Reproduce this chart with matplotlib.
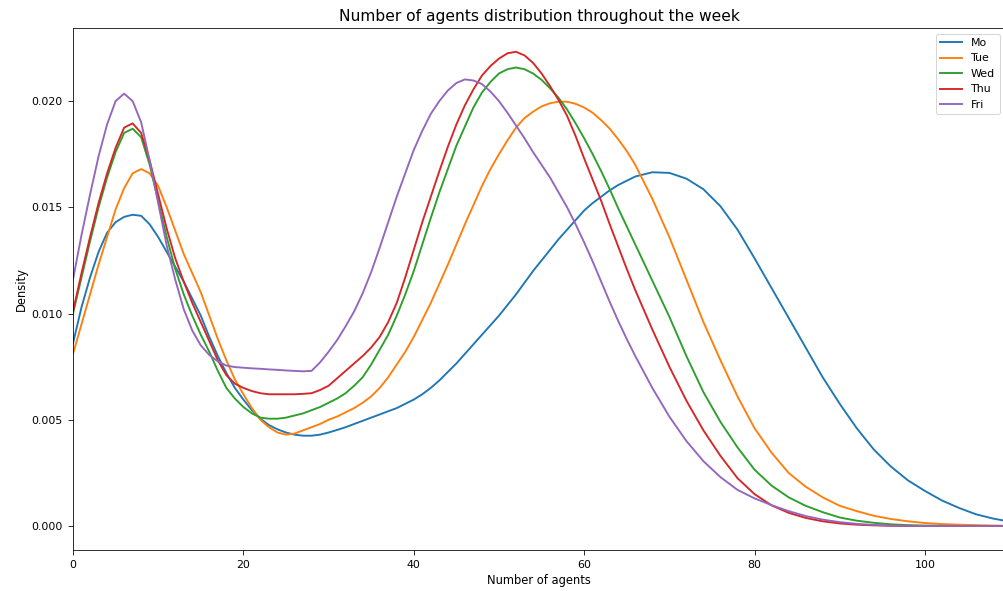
import matplotlib
matplotlib.use("Agg")
import matplotlib.pyplot as plt

# x positions (number of agents) at which densities were read
agents = list(range(0, 67)) + list(range(68, 111, 2))

# densities in units of 1e-3
mo = [8.6, 10.3, 11.7, 12.9, 13.8, 14.3, 14.55, 14.65, 14.6, 14.2,
      13.6, 12.9, 12.2, 11.5, 10.7, 9.9, 8.9, 8.0, 7.2, 6.5,
      5.95, 5.45, 5.05, 4.75, 4.55, 4.4, 4.3, 4.25, 4.25, 4.3,
      4.4, 4.52, 4.65, 4.8, 4.95, 5.1, 5.25, 5.4, 5.55, 5.75,
      5.95, 6.2, 6.5, 6.85, 7.25, 7.65, 8.1, 8.55, 9.0, 9.45,
      9.9, 10.4, 10.9, 11.45, 12.0, 12.5, 13.0, 13.5, 13.95, 14.4,
      14.85, 15.2, 15.5, 15.8, 16.05, 16.25, 16.45,
      16.65, 16.62, 16.35, 15.85, 15.05, 13.95, 12.6, 11.2, 9.8, 8.4,
      7.0, 5.75, 4.6, 3.6, 2.8, 2.15, 1.65, 1.2, 0.85, 0.55,
      0.35, 0.2]
tue = [8.1, 9.5, 10.9, 12.3, 13.6, 14.9, 15.9, 16.6, 16.8, 16.6,
       16.0, 15.0, 13.9, 12.8, 11.9, 11.0, 9.9, 8.8, 7.8, 6.9,
       6.2, 5.55, 5.0, 4.65, 4.4, 4.3, 4.35, 4.5, 4.65, 4.8,
       5.0, 5.15, 5.35, 5.55, 5.8, 6.1, 6.5, 7.0, 7.6, 8.2,
       8.9, 9.7, 10.5, 11.4, 12.3, 13.25, 14.2, 15.1, 16.0, 16.8,
       17.5, 18.15, 18.75, 19.2, 19.5, 19.75, 19.9, 19.97, 19.97, 19.87,
       19.7, 19.45, 19.1, 18.7, 18.2, 17.65, 17.0,
       15.4, 13.6, 11.6, 9.6, 7.8, 6.1, 4.6, 3.45, 2.5, 1.85,
       1.35, 0.95, 0.7, 0.48, 0.33, 0.22, 0.14, 0.09, 0.06, 0.04,
       0.02, 0.01]
wed = [10.0, 11.7, 13.4, 15.0, 16.4, 17.6, 18.5, 18.7, 18.3, 17.0,
       15.3, 13.6, 12.1, 10.9, 9.9, 9.0, 8.2, 7.3, 6.5, 6.0,
       5.6, 5.3, 5.1, 5.05, 5.05, 5.1, 5.2, 5.3, 5.45, 5.6,
       5.8, 6.0, 6.25, 6.6, 7.0, 7.6, 8.3, 9.0, 9.9, 10.9,
       12.0, 13.25, 14.5, 15.7, 16.8, 17.9, 18.8, 19.7, 20.4, 20.9,
       21.3, 21.5, 21.58, 21.5, 21.3, 21.0, 20.6, 20.15, 19.6, 18.95,
       18.25, 17.5, 16.7, 15.85, 14.95, 14.1, 13.25,
       11.55, 9.85, 8.0, 6.3, 4.9, 3.7, 2.65, 1.9, 1.35, 0.95,
       0.65, 0.4, 0.25, 0.15, 0.08, 0.04, 0.02, 0.01, 0.0, 0.0,
       0.0, 0.0]
thu = [10.1, 11.9, 13.6, 15.2, 16.6, 17.8, 18.75, 18.95, 18.5, 17.2,
       15.6, 14.0, 12.6, 11.5, 10.5, 9.6, 8.7, 7.8, 7.1, 6.7,
       6.5, 6.35, 6.25, 6.2, 6.2, 6.2, 6.2, 6.22, 6.25, 6.4,
       6.6, 6.95, 7.3, 7.65, 8.0, 8.4, 8.9, 9.6, 10.5, 11.7,
       13.0, 14.3, 15.5, 16.7, 17.85, 18.9, 19.8, 20.55, 21.2, 21.65,
       22.0, 22.25, 22.32, 22.15, 21.8, 21.3, 20.7, 20.05, 19.3, 18.35,
       17.3, 16.3, 15.3, 14.2, 13.15, 12.1, 11.1,
       9.25, 7.5, 5.9, 4.5, 3.3, 2.25, 1.5, 0.97, 0.62, 0.38,
       0.22, 0.12, 0.06, 0.03, 0.01, 0.0, 0.0, 0.0, 0.0, 0.0,
       0.0, 0.0]
fri = [11.6, 13.7, 15.6, 17.4, 18.9, 20.0, 20.35, 20.0, 19.0, 17.2,
       15.2, 13.2, 11.6, 10.2, 9.2, 8.5, 8.05, 7.75, 7.55, 7.48,
       7.45, 7.42, 7.4, 7.37, 7.35, 7.32, 7.3, 7.28, 7.3, 7.7,
       8.2, 8.75, 9.4, 10.1, 10.95, 11.95, 13.1, 14.3, 15.5, 16.6,
       17.7, 18.6, 19.4, 20.0, 20.5, 20.85, 21.02, 20.97, 20.8, 20.45,
       20.0, 19.45, 18.85, 18.25, 17.6, 17.0, 16.4, 15.7, 15.0, 14.2,
       13.35, 12.45, 11.5, 10.55, 9.65, 8.8, 8.0,
       6.5, 5.15, 4.0, 3.05, 2.3, 1.7, 1.3, 0.98, 0.7, 0.47,
       0.3, 0.18, 0.1, 0.05, 0.02, 0.01, 0.0, 0.0, 0.0, 0.0,
       0.0, 0.0]

series = [("Mo", mo), ("Tue", tue), ("Wed", wed), ("Thu", thu), ("Fri", fri)]
colors = ["#1f77b4", "#ff7f0e", "#2ca02c", "#d62728", "#9467bd"]

DPI = 72
fig = plt.figure(figsize=(1003 / DPI, 591 / DPI), dpi=DPI)
ax = fig.add_axes([73 / 1003, 1 - 550 / 591, 1.002 - 73 / 1003, (550 - 28) / 591])

for (name, vals), c in zip(series, colors):
    ax.plot(agents, [v / 1000 for v in vals], color=c, lw=1.9, label=name)

ax.set_xlim(0, 109.4)
ax.set_ylim(-0.00113, 0.02344)
ax.set_xticks([0, 20, 40, 60, 80, 100])
ax.set_yticks([0.0, 0.005, 0.010, 0.015, 0.020])
ax.set_yticklabels(["0.000", "0.005", "0.010", "0.015", "0.020"])
ax.tick_params(labelsize=11, length=5, pad=5)
ax.set_title("Number of agents distribution throughout the week", fontsize=15.5, pad=7)
ax.set_xlabel("Number of agents", fontsize=11.5)
ax.set_ylabel("Density", fontsize=11.5)
ax.legend(loc="upper right", fontsize=11)

fig.savefig("out.png", dpi=DPI)
